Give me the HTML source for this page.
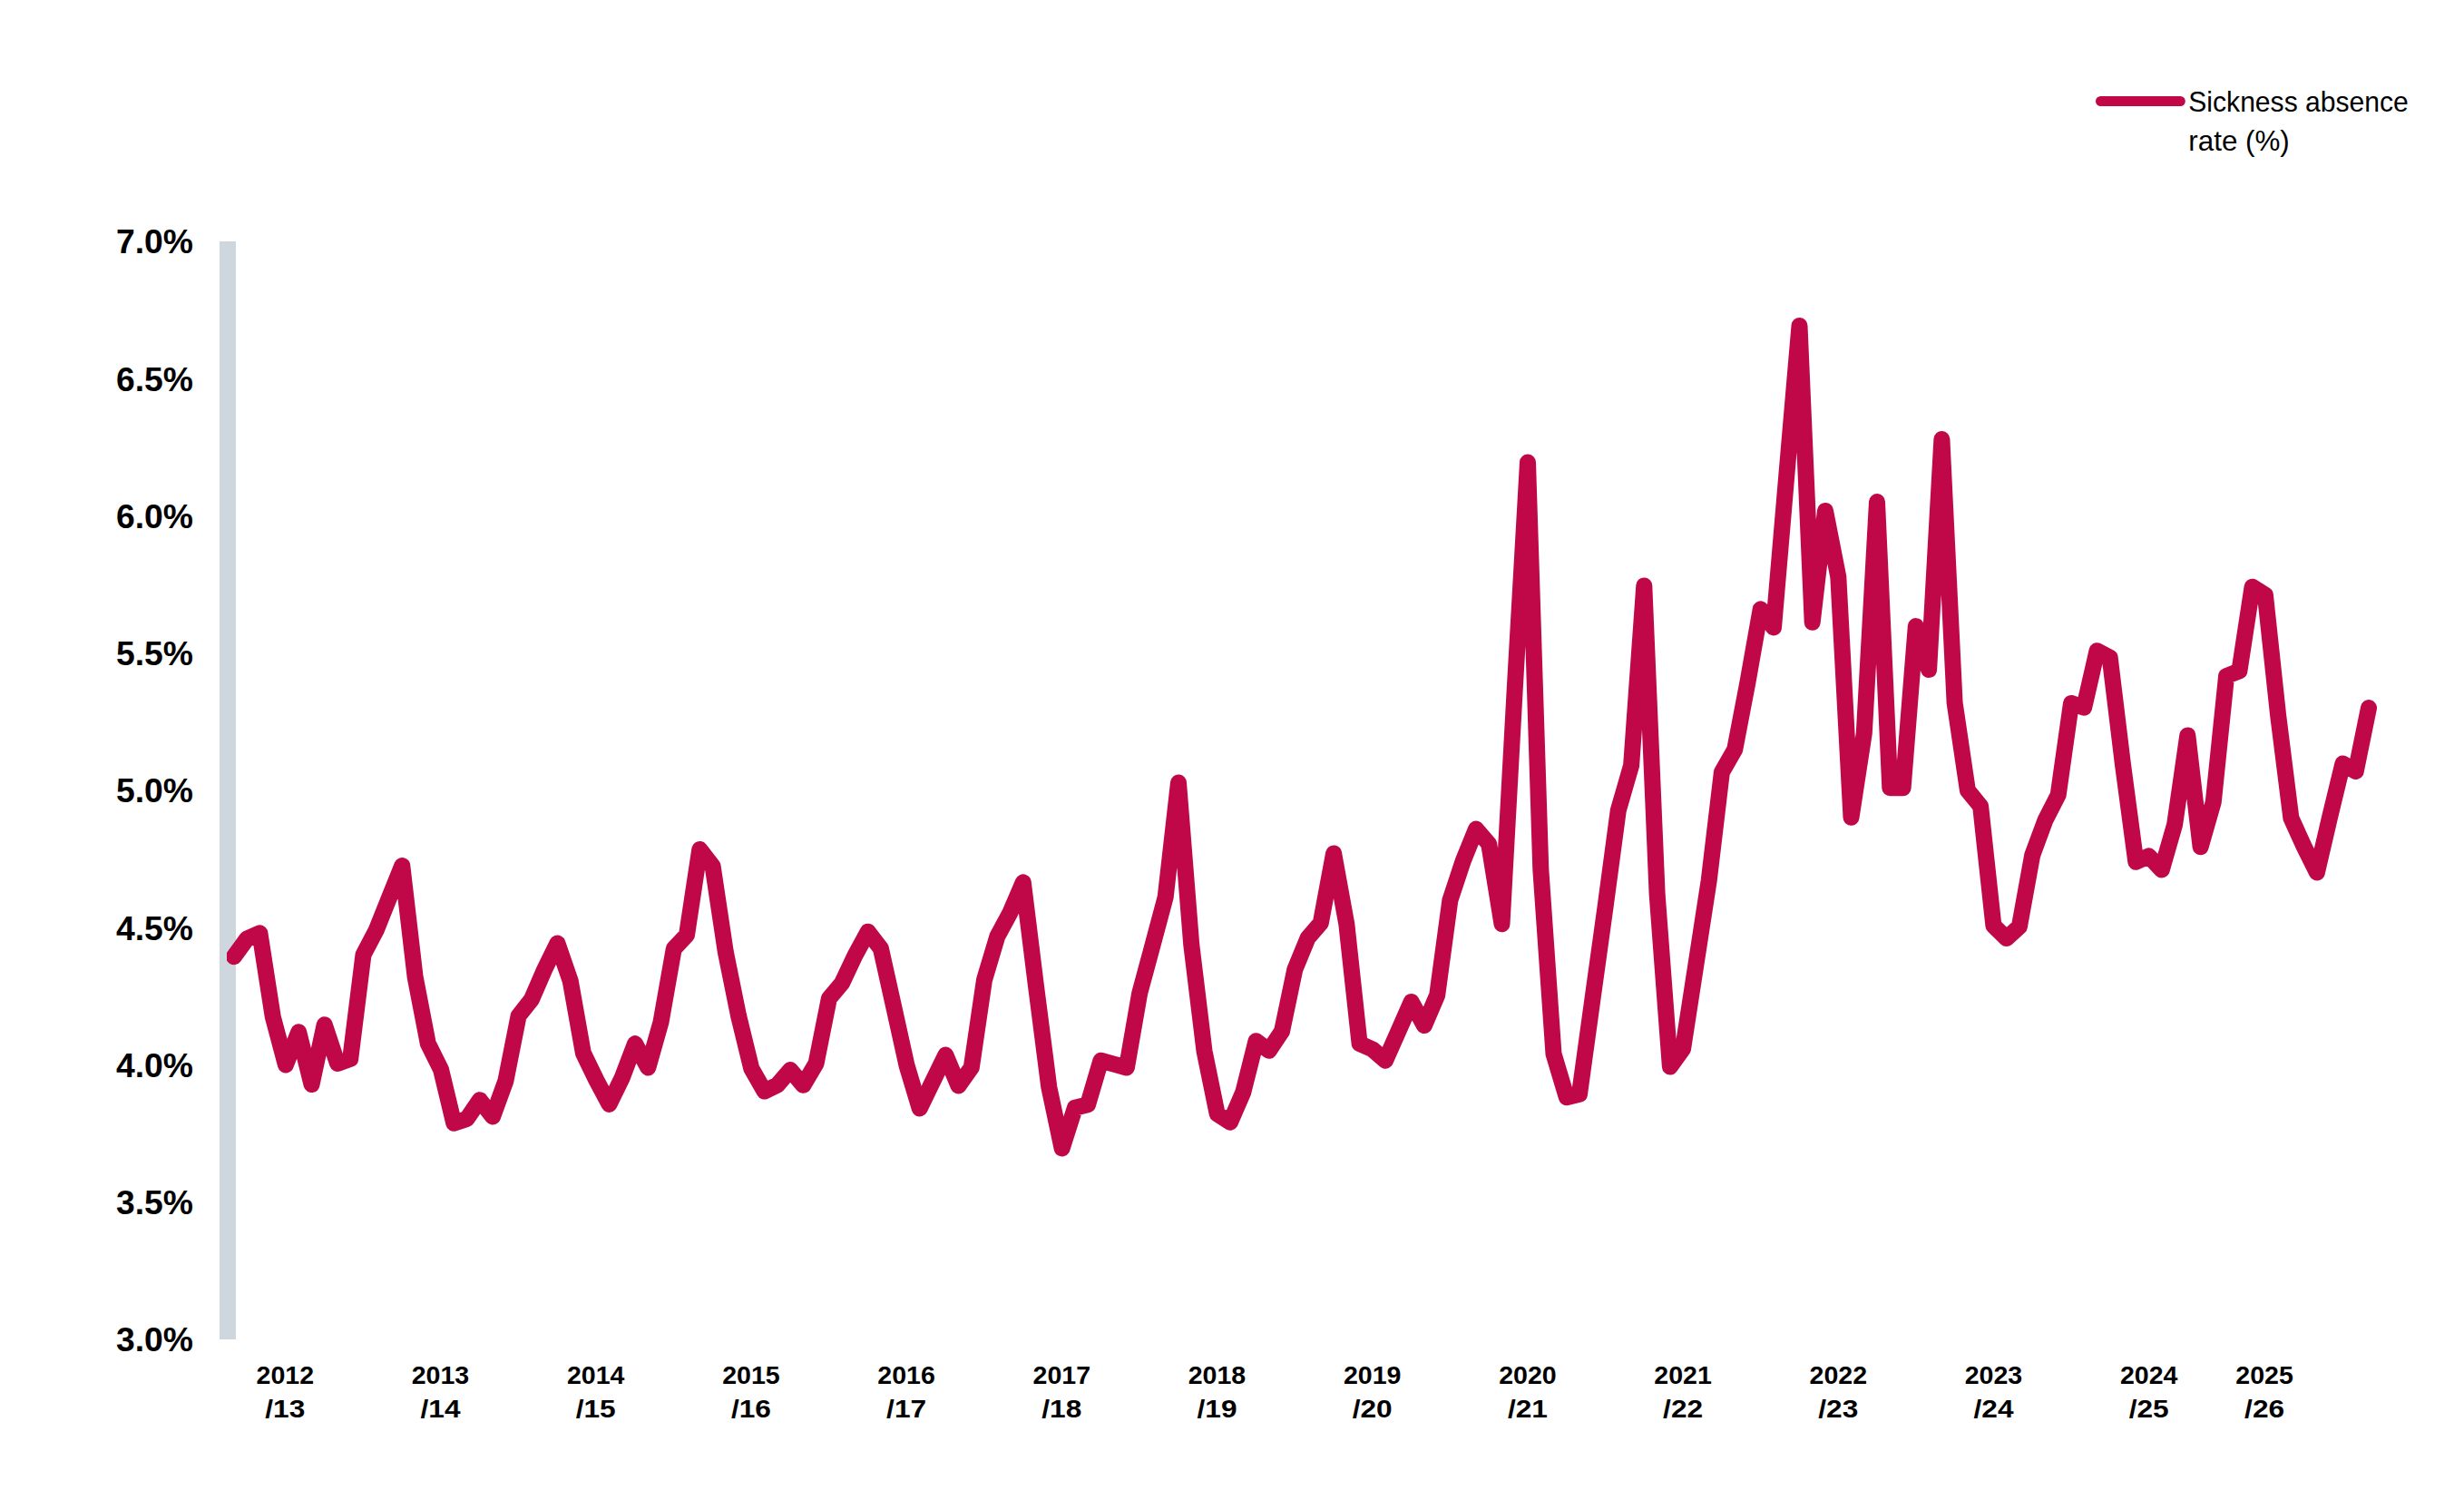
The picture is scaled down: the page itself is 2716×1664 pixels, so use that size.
<!DOCTYPE html>
<html lang="en"><head><meta charset="utf-8"><title>Sickness absence rate (%)</title>
<style>
html,body{margin:0;padding:0;background:#fff;}
body{width:2716px;height:1664px;overflow:hidden;}
svg{display:block;}
text{font-family:"Liberation Sans",sans-serif;fill:#000;}
.yl{font-weight:700;font-size:37px;text-anchor:end;}
.xl{font-weight:700;font-size:27.5px;text-anchor:middle;}
.lg{font-size:32.2px;}
</style></head><body>
<svg width="2716" height="1664" viewBox="0 0 2716 1664">
<defs><clipPath id="pc"><rect x="250" y="0" width="2466" height="1664"/></clipPath></defs>
<rect width="2716" height="1664" fill="#fff"/>
<rect x="242" y="266" width="18" height="1210" fill="#CFD7DE"/>
<text class="yl" x="213" y="279.3" textLength="85" lengthAdjust="spacingAndGlyphs">7.0%</text>
<text class="yl" x="213" y="430.6" textLength="85" lengthAdjust="spacingAndGlyphs">6.5%</text>
<text class="yl" x="213" y="581.8" textLength="85" lengthAdjust="spacingAndGlyphs">6.0%</text>
<text class="yl" x="213" y="733.0" textLength="85" lengthAdjust="spacingAndGlyphs">5.5%</text>
<text class="yl" x="213" y="884.3" textLength="85" lengthAdjust="spacingAndGlyphs">5.0%</text>
<text class="yl" x="213" y="1035.5" textLength="85" lengthAdjust="spacingAndGlyphs">4.5%</text>
<text class="yl" x="213" y="1186.8" textLength="85" lengthAdjust="spacingAndGlyphs">4.0%</text>
<text class="yl" x="213" y="1338.0" textLength="85" lengthAdjust="spacingAndGlyphs">3.5%</text>
<text class="yl" x="213" y="1489.3" textLength="85" lengthAdjust="spacingAndGlyphs">3.0%</text>
<text class="xl" x="314.3" y="1525.1" textLength="63.5" lengthAdjust="spacingAndGlyphs">2012</text><text class="xl" x="314.3" y="1562.4" textLength="44" lengthAdjust="spacingAndGlyphs">/13</text>
<text class="xl" x="485.5" y="1525.1" textLength="63.5" lengthAdjust="spacingAndGlyphs">2013</text><text class="xl" x="485.5" y="1562.4" textLength="44" lengthAdjust="spacingAndGlyphs">/14</text>
<text class="xl" x="656.7" y="1525.1" textLength="63.5" lengthAdjust="spacingAndGlyphs">2014</text><text class="xl" x="656.7" y="1562.4" textLength="44" lengthAdjust="spacingAndGlyphs">/15</text>
<text class="xl" x="827.9" y="1525.1" textLength="63.5" lengthAdjust="spacingAndGlyphs">2015</text><text class="xl" x="827.9" y="1562.4" textLength="44" lengthAdjust="spacingAndGlyphs">/16</text>
<text class="xl" x="999.1" y="1525.1" textLength="63.5" lengthAdjust="spacingAndGlyphs">2016</text><text class="xl" x="999.1" y="1562.4" textLength="44" lengthAdjust="spacingAndGlyphs">/17</text>
<text class="xl" x="1170.3" y="1525.1" textLength="63.5" lengthAdjust="spacingAndGlyphs">2017</text><text class="xl" x="1170.3" y="1562.4" textLength="44" lengthAdjust="spacingAndGlyphs">/18</text>
<text class="xl" x="1341.5" y="1525.1" textLength="63.5" lengthAdjust="spacingAndGlyphs">2018</text><text class="xl" x="1341.5" y="1562.4" textLength="44" lengthAdjust="spacingAndGlyphs">/19</text>
<text class="xl" x="1512.7" y="1525.1" textLength="63.5" lengthAdjust="spacingAndGlyphs">2019</text><text class="xl" x="1512.7" y="1562.4" textLength="44" lengthAdjust="spacingAndGlyphs">/20</text>
<text class="xl" x="1683.9" y="1525.1" textLength="63.5" lengthAdjust="spacingAndGlyphs">2020</text><text class="xl" x="1683.9" y="1562.4" textLength="44" lengthAdjust="spacingAndGlyphs">/21</text>
<text class="xl" x="1855.1" y="1525.1" textLength="63.5" lengthAdjust="spacingAndGlyphs">2021</text><text class="xl" x="1855.1" y="1562.4" textLength="44" lengthAdjust="spacingAndGlyphs">/22</text>
<text class="xl" x="2026.3" y="1525.1" textLength="63.5" lengthAdjust="spacingAndGlyphs">2022</text><text class="xl" x="2026.3" y="1562.4" textLength="44" lengthAdjust="spacingAndGlyphs">/23</text>
<text class="xl" x="2197.5" y="1525.1" textLength="63.5" lengthAdjust="spacingAndGlyphs">2023</text><text class="xl" x="2197.5" y="1562.4" textLength="44" lengthAdjust="spacingAndGlyphs">/24</text>
<text class="xl" x="2368.7" y="1525.1" textLength="63.5" lengthAdjust="spacingAndGlyphs">2024</text><text class="xl" x="2368.7" y="1562.4" textLength="44" lengthAdjust="spacingAndGlyphs">/25</text>
<text class="xl" x="2496.1" y="1525.1" textLength="63.5" lengthAdjust="spacingAndGlyphs">2025</text><text class="xl" x="2496.1" y="1562.4" textLength="44" lengthAdjust="spacingAndGlyphs">/26</text>
<polyline fill="none" stroke="#C00848" stroke-width="18" stroke-linejoin="round" stroke-linecap="round" clip-path="url(#pc)" points="257.9,1054.2 272.2,1034.4 286.4,1028.3 300.7,1120.2 314.9,1173.5 329.2,1137.3 343.5,1195.0 357.7,1129.2 372.0,1172.0 386.2,1166.8 400.5,1052.2 414.8,1024.8 429.0,989.3 443.3,954.0 457.6,1076.5 471.8,1150.0 486.1,1178.8 500.3,1237.8 514.6,1233.0 528.9,1212.2 543.1,1230.5 557.4,1191.1 571.6,1119.5 585.9,1101.4 600.2,1068.4 614.4,1039.5 628.7,1080.9 642.9,1160.5 657.2,1190.0 671.5,1216.9 685.7,1187.7 700.0,1150.1 714.3,1176.5 728.5,1126.4 742.8,1045.5 757.0,1030.3 771.3,936.0 785.6,954.5 799.8,1049.0 814.1,1119.5 828.3,1177.5 842.6,1202.6 856.9,1195.7 871.1,1179.0 885.4,1195.8 899.6,1171.8 913.9,1100.2 928.2,1083.2 942.4,1053.0 956.7,1026.7 970.9,1045.2 985.2,1109.5 999.5,1174.1 1013.7,1221.5 1028.0,1192.0 1042.3,1162.6 1056.5,1196.5 1070.8,1176.4 1085.0,1079.8 1099.3,1032.0 1113.6,1005.4 1127.8,972.4 1142.1,1087.5 1156.3,1198.0 1170.6,1265.5 1184.9,1220.7 1199.1,1217.3 1213.4,1168.8 1227.6,1172.6 1241.9,1176.5 1256.2,1094.5 1270.4,1042.0 1284.7,988.5 1299.0,862.5 1313.2,1040.6 1327.5,1158.2 1341.7,1227.5 1356.0,1236.7 1370.3,1203.6 1384.5,1147.2 1398.8,1157.8 1413.0,1136.6 1427.3,1068.4 1441.6,1033.6 1455.8,1017.2 1470.1,940.4 1484.3,1018.3 1498.6,1150.0 1512.9,1156.4 1527.1,1168.7 1541.4,1136.4 1555.7,1104.0 1569.9,1130.1 1584.2,1096.6 1598.4,992.0 1612.7,948.9 1627.0,913.5 1641.2,930.0 1655.5,1018.3 1669.7,760.0 1684.0,509.5 1698.3,958.0 1712.5,1161.4 1726.8,1209.2 1741.0,1205.7 1755.3,1102.0 1769.6,999.0 1783.8,893.0 1798.1,843.5 1812.3,645.4 1826.6,985.0 1840.9,1175.5 1855.1,1155.7 1869.4,1063.0 1883.7,970.4 1897.9,851.0 1912.2,826.0 1926.4,752.0 1940.7,671.3 1955.0,691.5 1969.2,525.0 1983.5,359.0 1997.7,685.8 2012.0,562.9 2026.3,635.7 2040.5,900.8 2054.8,808.0 2069.0,553.1 2083.3,868.3 2097.6,868.3 2111.8,690.1 2126.1,738.0 2140.4,484.0 2154.6,774.5 2168.9,871.0 2183.1,888.4 2197.4,1020.1 2211.7,1034.1 2225.9,1021.1 2240.2,942.4 2254.4,904.0 2268.7,876.0 2283.0,774.9 2297.2,779.6 2311.5,717.2 2325.7,724.8 2340.0,842.7 2354.3,949.8 2368.5,943.4 2382.8,958.5 2397.1,908.8 2411.3,810.4 2425.6,933.3 2439.8,883.7 2454.1,745.0 2468.4,739.3 2482.6,646.7 2496.9,655.6 2511.1,788.0 2525.4,901.5 2539.7,933.0 2553.9,961.5 2568.2,900.0 2582.4,841.5 2596.7,850.1 2611.0,780.1"/>
<line x1="2315.5" y1="111.5" x2="2403.3" y2="111.5" stroke="#C00848" stroke-width="11" stroke-linecap="round"/>
<text class="lg" x="2412.3" y="122.5" textLength="242.5" lengthAdjust="spacingAndGlyphs">Sickness absence</text>
<text class="lg" x="2412.3" y="165.8" textLength="111.5" lengthAdjust="spacingAndGlyphs">rate (%)</text>
</svg>
</body></html>
